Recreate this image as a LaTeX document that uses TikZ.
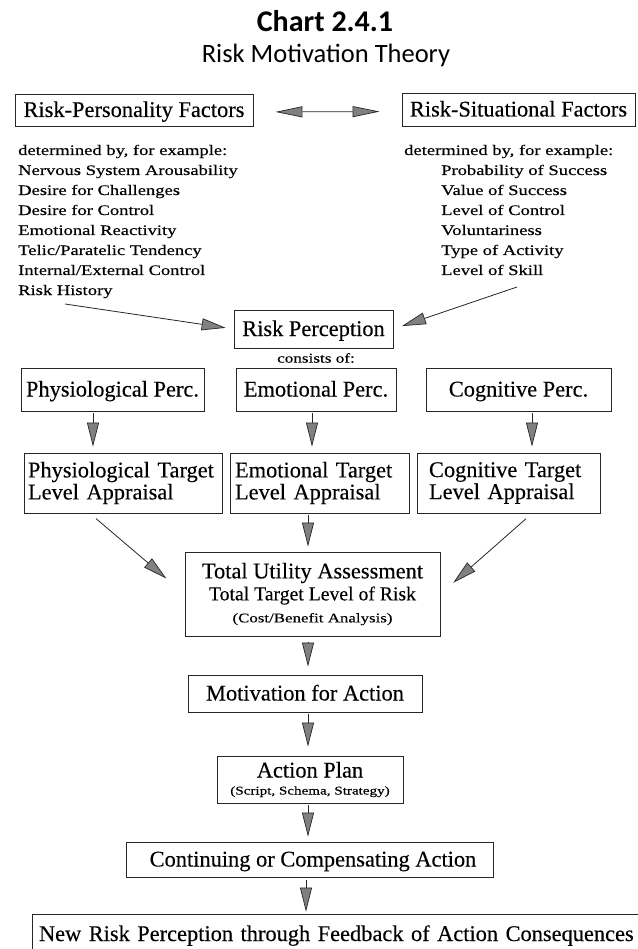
\documentclass[tikz,border=0pt]{standalone}
\usepackage{fontspec}
\setmainfont{Liberation Serif}[FakeBold=0.25]
\newfontfamily\listfont{Liberation Serif}[FakeStretch=1.28,FakeBold=0.35]
\newfontfamily\headfont{Carlito}
\usetikzlibrary{arrows.meta}
\begin{document}
\begin{tikzpicture}[x=1pt,y=-1pt,
  box/.style={draw=black!85, line width=0.9pt, inner sep=0pt,
    font=\fontsize{22.4}{22}\selectfont},
  onerow/.style={box, text height=18pt, text depth=4pt},
  listtext/.style={inner sep=0pt, anchor=base west,
    font=\listfont\fontsize{14.5}{20}\selectfont},
  smalltext/.style={inner sep=0pt, font=\listfont\fontsize{13.4}{16}\selectfont},
  arr/.style={draw=black!85, line width=0.8pt,
    -{Triangle[length=24pt,width=12pt,fill=black!50,line width=0.7pt]}},
  darr/.style={draw=black!85, line width=0.8pt,
    {Triangle[length=27pt,width=11pt,fill=black!50,line width=0.7pt]}-{Triangle[length=27pt,width=11pt,fill=black!50,line width=0.7pt]}},
]
\useasboundingbox (0,0) rectangle (637,949);

% headings
\node[font=\headfont\bfseries\fontsize{30}{30}\selectfont, anchor=base] (title) at (325,32) {Chart 2.4.1};
\node[font=\headfont\fontsize{26.5}{26}\selectfont, anchor=base] (subtitle) at (326,63) {Risk Motivation Theory};

% factor boxes
\node[onerow, minimum width=238, minimum height=32] (rpf) at (134,110) {Risk-Personality Factors};
\node[onerow, minimum width=233, minimum height=33] (rsf) at (518.5,109.5) {Risk-Situational Factors};
\draw[darr, shorten <=22pt, shorten >=22pt] ([yshift=-2pt]rpf.east) -- ([yshift=-2pt]rsf.west);

% personality factors
\foreach \t [count=\i from 0] in {{determined by, for example:},
  {Nervous System Arousability}, {Desire for Challenges}, {Desire for Control},
  {Emotional Reactivity}, {Telic/Paratelic Tendency}, {Internal/External Control}, {Risk History}}
  \node[listtext] (l\i) at (18,155+20*\i) {\t};

% situational factors
\node[listtext] (r0) at (404,155) {determined by, for example:};
\foreach \t [count=\i] in {{Probability of Success}, {Value of Success}, {Level of Control},
  {Voluntariness}, {Type of Activity}, {Level of Skill}}
  \node[listtext] (r\i) at (441,155+20*\i) {\t};

% risk perception
\node[onerow, minimum width=159, minimum height=38] (rp) at (313.5,329) {Risk Perception};
\node[smalltext] (consists) at (316,358) {consists of:};
\coordinate (lstart) at (65,304);
\coordinate (rstart) at (517,287);
\draw[arr, shorten >=8pt] (lstart) -- (rp.west);
\draw[arr, shorten >=9pt] (rstart) -- (rp.east);

% perception components
\node[onerow, minimum width=183, minimum height=43] (pp) at (112.5,389.5) {Physiological Perc.};
\node[onerow, minimum width=160, minimum height=43] (ep) at (316,389.5) {Emotional Perc.};
\node[onerow, minimum width=185, minimum height=43] (cp) at (518.5,389.5) {Cognitive Perc.};

% target level appraisals
\node[box, align=left, text width=190, inner xsep=4, minimum height=60] (pt) at (123,483)
  {Physiological Target\\Level Appraisal};
\node[box, align=left, text width=169, inner xsep=5, minimum height=60] (et) at (319.5,483)
  {Emotional Target\\Level Appraisal};
\node[box, align=left, text width=159, inner xsep=12, minimum height=60] (ct) at (508.5,483)
  {Cognitive Target\\Level Appraisal};

\coordinate (c1) at (93,0);
\coordinate (c2) at (312,0);
\coordinate (c3) at (532,0);
\draw[arr, shorten <=2pt, shorten >=6pt] (pp.south -| c1) -- (pt.north -| c1);
\draw[arr, shorten <=2pt, shorten >=6pt] (ep.south -| c2) -- (et.north -| c2);
\draw[arr, shorten <=2pt, shorten >=6pt] (cp.south -| c3) -- (ct.north -| c3);

% total utility
\node[box, align=center, minimum width=255, minimum height=84] (tu) at (312.5,594)
  {Total Utility Assessment\\
   {\fontsize{19.7}{22}\selectfont Total Target Level of Risk}\\
   {\listfont\fontsize{13.2}{22}\selectfont (Cost/Benefit Analysis)}};

\coordinate (m1) at (308,0);
\coordinate (m2) at (306,0);
\coordinate (dl) at (90,0);
\coordinate (dr) at (532,0);
\draw[arr, shorten <=2pt, shorten >=5pt] (et.south -| m1) -- (tu.north -| m1);
\draw[arr, shorten <=8pt, shorten >=24pt] (pt.south -| dl) -- (tu.west);
\draw[arr, shorten <=8pt, shorten >=17pt] (ct.south -| dr) -- (tu.east);

% action chain
\node[onerow, minimum width=234, minimum height=37] (mo) at (305,693.5) {Motivation for Action};
\node[box, align=center, minimum width=186, minimum height=47,
  font=\fontsize{22.4}{17}\selectfont] (ap) at (310,779.5)
  {Action Plan\\{\listfont\fontsize{11.8}{17}\selectfont (Script, Schema, Strategy)}};
\node[onerow, minimum width=367, minimum height=35] (cn) at (309.5,859.5)
  {\hspace*{7pt}Continuing or Compensating Action};
\node[onerow, align=left, text width=599, inner xsep=7, minimum height=40] (nw) at (338.5,934)
  {New Risk Perception through Feedback of Action Consequences};

\draw[arr, shorten <=6pt, shorten >=8pt] (tu.south -| m1) -- (mo.north -| m1);
\draw[arr, shorten <=2pt, shorten >=9pt] (mo.south -| m1) -- (ap.north -| m1);
\draw[arr, shorten <=2pt, shorten >=5pt] (ap.south -| m1) -- (cn.north -| m1);
\draw[arr, shorten <=3pt, shorten >=2pt] (cn.south -| m2) -- (nw.north -| m2);
\end{tikzpicture}
\end{document}
